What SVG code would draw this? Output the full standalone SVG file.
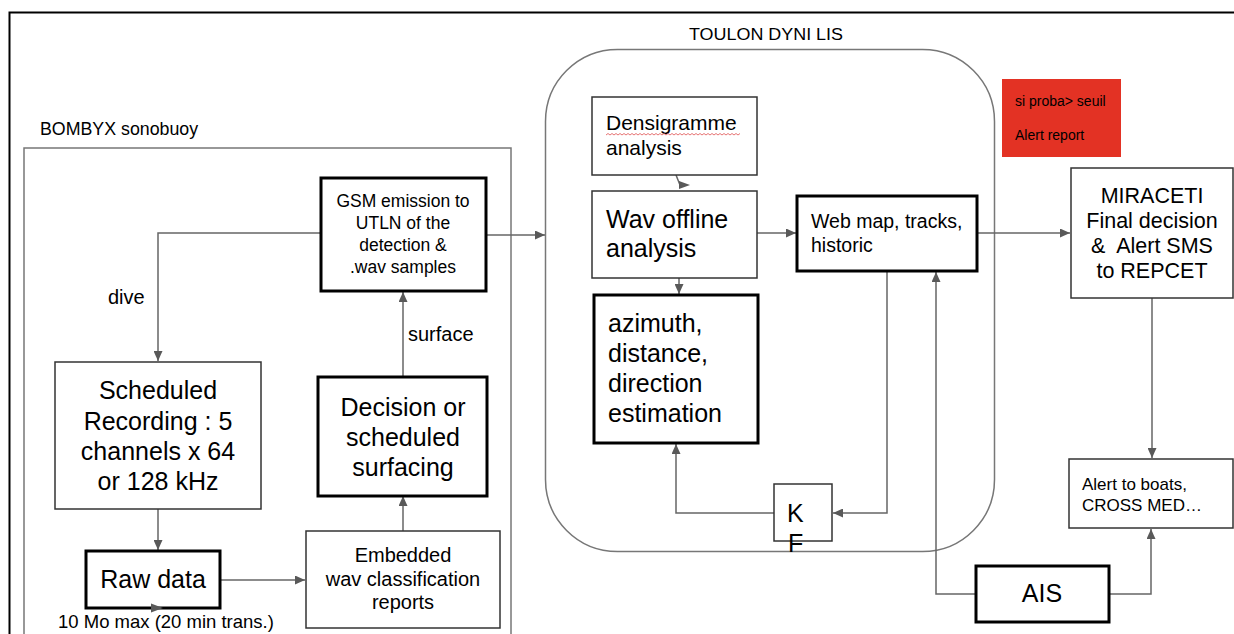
<svg xmlns="http://www.w3.org/2000/svg" width="1234" height="634" viewBox="0 0 1234 634">
<defs>
<style>
text{font-family:"Liberation Sans",Arial,sans-serif;fill:#000}
.thin{fill:#fff;stroke:#333;stroke-width:1.5}
.thick{fill:#fff;stroke:#000;stroke-width:3}
.cont{fill:none;stroke:#777;stroke-width:1.5}
.con{fill:none;stroke:#666;stroke-width:1.5}
.mid{text-anchor:middle}
</style>
<marker id="ah" markerWidth="10" markerHeight="9" refX="10" refY="4.5" orient="auto" markerUnits="userSpaceOnUse"><path d="M0,0 L10,4.5 L0,9 z" fill="#595959"/></marker>
</defs>
<rect width="1234" height="634" fill="#fff"/>
<path d="M9.5,640 V12.5 H1240" fill="none" stroke="#000" stroke-width="2"/>

<g id="bombyx">
<rect class="cont" x="24" y="148" width="487" height="500"/>
<text x="40" y="135" font-size="17.8">BOMBYX sonobuoy</text>
</g>
<g id="toulon">
<rect class="cont" x="545.5" y="49.5" width="449" height="502" rx="72" ry="72"/>
<text x="766" y="40" font-size="16" class="mid" textLength="154" lengthAdjust="spacingAndGlyphs">TOULON DYNI LIS</text>
</g>

<g id="connectors">
<path class="con" d="M321,233 H158 V361" marker-end="url(#ah)"/>
<path class="con" d="M486,235 H545" marker-end="url(#ah)"/>
<path class="con" d="M403,377 V292" marker-end="url(#ah)"/>
<path class="con" d="M158,509 V550" marker-end="url(#ah)"/>
<path class="con" d="M220,580 H305" marker-end="url(#ah)"/>
<path class="con" d="M403,531 V496" marker-end="url(#ah)"/>
<path class="con" d="M676,175 L680,185"/>
<path d="M679,181 L690,185 L679,189 z" fill="#595959"/>
<path class="con" d="M757,233 H796" marker-end="url(#ah)"/>
<path class="con" d="M679,278 V294" marker-end="url(#ah)"/>
<path class="con" d="M887,271 V513 H833" marker-end="url(#ah)"/>
<path class="con" d="M774,513 H676 V444" marker-end="url(#ah)"/>
<path class="con" d="M975,594 H936 V272" marker-end="url(#ah)"/>
<path class="con" d="M977,233 H1070" marker-end="url(#ah)"/>
<path class="con" d="M1152,298 V458" marker-end="url(#ah)"/>
<path class="con" d="M1109,594 H1151 V529" marker-end="url(#ah)"/>
</g>

<g id="gsm">
<rect class="thick" x="321" y="178" width="165" height="113"/>
<text class="mid" x="403" y="207" font-size="17.5">GSM emission to</text>
<text class="mid" x="403" y="229" font-size="17.5">UTLN of the</text>
<text class="mid" x="403" y="251" font-size="17.5">detection &amp;</text>
<text class="mid" x="403" y="273" font-size="17.5">.wav samples</text>
</g>
<g id="dive-label"><text x="108" y="304" font-size="20">dive</text></g>
<g id="surface-label"><text x="408" y="341" font-size="20">surface</text></g>

<g id="scheduled">
<rect class="thin" x="55" y="362" width="206" height="147"/>
<text class="mid" x="158" y="399" font-size="25">Scheduled</text>
<text class="mid" x="158" y="430" font-size="25">Recording : 5</text>
<text class="mid" x="158" y="460" font-size="25">channels x 64</text>
<text class="mid" x="158" y="490" font-size="25">or 128 kHz</text>
</g>

<g id="decision">
<rect class="thick" x="318" y="377" width="169" height="119"/>
<text class="mid" x="403" y="416" font-size="25">Decision or</text>
<text class="mid" x="403" y="446" font-size="25">scheduled</text>
<text class="mid" x="403" y="476" font-size="25">surfacing</text>
</g>

<g id="rawdata">
<rect class="thick" x="86" y="551" width="134" height="57"/>
<text class="mid" x="153" y="588" font-size="25">Raw data</text>
<path d="M151,603.5 L163,608 L151,612.5 z" fill="#595959"/>
</g>
<g id="rawnote"><text x="58" y="628" font-size="18.5">10 Mo max (20 min trans.)</text></g>

<g id="embedded">
<rect class="thin" x="306" y="531" width="194" height="97"/>
<text class="mid" x="403" y="562" font-size="20">Embedded</text>
<text class="mid" x="403" y="586" font-size="20">wav classification</text>
<text class="mid" x="403" y="609" font-size="20">reports</text>
</g>

<g id="densigramme">
<rect class="thin" x="592" y="97" width="165" height="78"/>
<text x="606" y="130" font-size="21">Densigramme</text>
<path d="M606,135 l2,-1.5 l2,1.5 l2,-1.5 l2,1.5 l2,-1.5 l2,1.5 l2,-1.5 l2,1.5 l2,-1.5 l2,1.5 l2,-1.5 l2,1.5 l2,-1.5 l2,1.5 l2,-1.5 l2,1.5 l2,-1.5 l2,1.5 l2,-1.5 l2,1.5 l2,-1.5 l2,1.5 l2,-1.5 l2,1.5 l2,-1.5 l2,1.5 l2,-1.5 l2,1.5 l2,-1.5 l2,1.5 l2,-1.5 l2,1.5 l2,-1.5 l2,1.5 l2,-1.5 l2,1.5 l2,-1.5 l2,1.5 l2,-1.5 l2,1.5 l2,-1.5 l2,1.5 l2,-1.5 l2,1.5 l2,-1.5 l2,1.5 l2,-1.5 l2,1.5 l2,-1.5 l2,1.5 l2,-1.5 l2,1.5 l2,-1.5 l2,1.5 l2,-1.5 l2,1.5 l2,-1.5 l2,1.5 l2,-1.5 l2,1.5 l2,-1.5 l2,1.5 l2,-1.5 l2,1.5 l2,-1.5 l2,1.5 l2,-1.5" fill="none" stroke="#e05050" stroke-width="0.8"/>
<text x="606" y="155" font-size="21">analysis</text>
</g>

<g id="wav">
<rect class="thin" x="592" y="191" width="165" height="87"/>
<text x="606" y="228" font-size="25">Wav offline</text>
<text x="606" y="257" font-size="25">analysis</text>
</g>

<g id="azimuth">
<rect class="thick" x="594" y="295" width="164" height="148"/>
<text x="608" y="332" font-size="25">azimuth,</text>
<text x="608" y="362" font-size="25">distance,</text>
<text x="608" y="392" font-size="25">direction</text>
<text x="608" y="422" font-size="25">estimation</text>
</g>

<g id="webmap">
<rect class="thick" x="797" y="196" width="180" height="75"/>
<text x="811" y="228" font-size="19.5">Web map, tracks,</text>
<text x="811" y="252" font-size="19.5">historic</text>
</g>

<g id="kf">
<rect class="thin" x="774" y="484" width="58" height="57"/>
<text x="787" y="522" font-size="25">K</text>
<text x="788" y="552" font-size="25">F</text>
</g>

<g id="alert-report">
<rect x="1002" y="79" width="119" height="78" fill="#e33224"/>
<text x="1015" y="106" font-size="14">si proba&gt; seuil</text>
<text x="1015" y="140" font-size="14">Alert report</text>
</g>

<g id="miraceti">
<rect class="thin" x="1071" y="168" width="162" height="130"/>
<text class="mid" x="1152" y="203" font-size="21.5">MIRACETI</text>
<text class="mid" x="1152" y="228" font-size="21.5">Final decision</text>
<text class="mid" x="1152" y="253" font-size="21.5" style="white-space:pre">&amp;  Alert SMS</text>
<text class="mid" x="1152" y="278" font-size="21.5">to REPCET</text>
</g>

<g id="alert-boats">
<rect class="thin" x="1069" y="459" width="164" height="69"/>
<text x="1082" y="490" font-size="17">Alert to boats,</text>
<text x="1082" y="511" font-size="17">CROSS MED…</text>
</g>

<g id="ais">
<rect class="thick" x="976" y="566" width="133" height="56"/>
<text class="mid" x="1042" y="602" font-size="25">AIS</text>
</g>
</svg>
